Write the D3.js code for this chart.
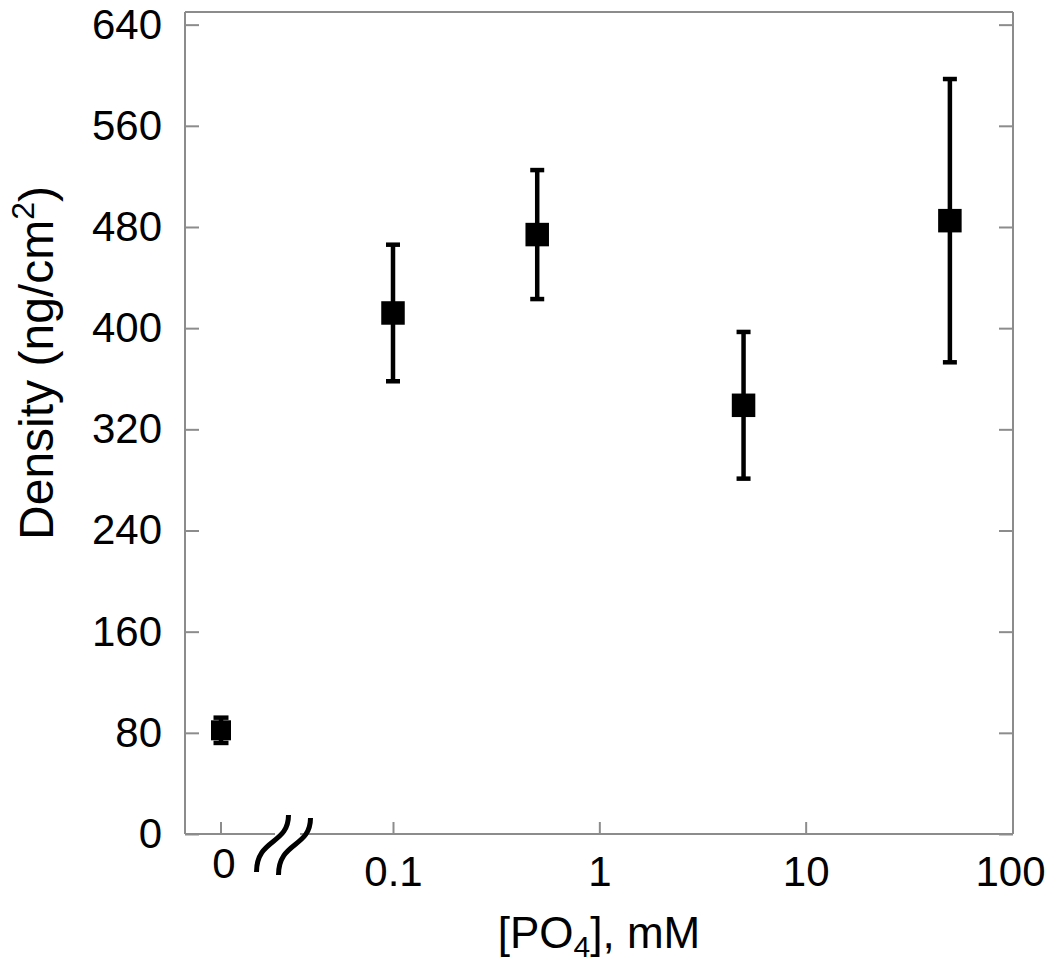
<!DOCTYPE html>
<html>
<head>
<meta charset="utf-8">
<script src="https://cdn.jsdelivr.net/npm/d3@7"></script>
<style>
  html, body { margin: 0; padding: 0; background: #fff; }
  text { font-family: "Liberation Sans", Arial, sans-serif; fill: #000; }
</style>
</head>
<body>
<svg id="chart" width="1050" height="967"></svg>
<script>
// ---- data ----
const concentrations = [0, 0.1, 0.5, 5, 50];           // mM (0 drawn left of the axis break)
const density        = [82, 412, 474, 339, 485];       // ng/cm2
const densityError   = [10, 54, 51, 58, 112];          // +/- ng/cm2
const yTicks         = [0, 80, 160, 240, 320, 400, 480, 560, 640];
const xTicks         = [0.1, 1, 10, 100];
const xTickLabels    = ["0.1", "1", "10", "100"];
const zeroLabel      = "0";

// ---- layout ----
const svg = d3.select("#chart");
const frame = { left: 185, right: 1013, top: 12, bottom: 834 };

const y = d3.scaleLinear().domain([0, 650]).range([frame.bottom, frame.top]);
const xLog = d3.scaleLog().domain([0.1, 100]).range([393, 1012]);
const xZero = 221;
const xPos = v => v === 0 ? xZero : xLog(v);

const gray = "#8c8c8c";
const breakX = 275, breakX2 = 300;

// frame: left, top, right, bottom (with break gap)
svg.append("line").attr("x1", frame.left).attr("x2", frame.left).attr("y1", frame.top).attr("y2", frame.bottom)
  .attr("stroke", gray).attr("stroke-width", 2);
svg.append("line").attr("x1", frame.left).attr("x2", frame.right).attr("y1", frame.top).attr("y2", frame.top)
  .attr("stroke", gray).attr("stroke-width", 2);
svg.append("line").attr("x1", frame.right).attr("x2", frame.right).attr("y1", frame.top).attr("y2", frame.bottom)
  .attr("stroke", gray).attr("stroke-width", 2);
svg.append("line").attr("x1", frame.left).attr("x2", breakX).attr("y1", frame.bottom).attr("y2", frame.bottom)
  .attr("stroke", gray).attr("stroke-width", 2);
svg.append("line").attr("x1", breakX2).attr("x2", frame.right).attr("y1", frame.bottom).attr("y2", frame.bottom)
  .attr("stroke", gray).attr("stroke-width", 2);

// y axis (left) with inward ticks
const yAxisL = d3.axisLeft(y).tickValues(yTicks).tickSize(-14).tickPadding(23).tickFormat(d3.format("d"));
const gyl = svg.append("g").attr("transform", `translate(${frame.left},0)`).call(yAxisL);
gyl.select(".domain").remove();
gyl.selectAll(".tick line").attr("stroke", gray).attr("stroke-width", 2);
gyl.selectAll(".tick text").attr("font-size", 42).attr("font-family", "Liberation Sans, Arial, sans-serif").attr("fill", "#000");

// y axis (right) ticks only
const yAxisR = d3.axisRight(y).tickValues(yTicks).tickSize(-14).tickFormat("");
const gyr = svg.append("g").attr("transform", `translate(${frame.right},0)`).call(yAxisR);
gyr.select(".domain").remove();
gyr.selectAll(".tick line").attr("stroke", gray).attr("stroke-width", 2);

// x axis (log part)
const xAxis = d3.axisBottom(xLog).tickValues(xTicks).tickSize(-12).tickPadding(22)
  .tickFormat((d, i) => xTickLabels[i]);
const gx = svg.append("g").attr("transform", `translate(0,${frame.bottom})`).call(xAxis);
gx.select(".domain").remove();
gx.selectAll(".tick line").attr("stroke", gray).attr("stroke-width", 2)
  .filter(d => d === 100).remove();
gx.selectAll(".tick text").attr("font-size", 42).attr("font-family", "Liberation Sans, Arial, sans-serif").attr("fill", "#000");
gx.selectAll(".tick text").filter(d => d === 100).attr("dx", -2);

// zero tick
svg.append("line").attr("x1", xZero).attr("x2", xZero).attr("y1", frame.bottom).attr("y2", frame.bottom - 12)
  .attr("stroke", gray).attr("stroke-width", 2);
svg.append("text").attr("x", xZero + 3).attr("y", frame.bottom + 44).attr("text-anchor", "middle")
  .attr("font-size", 42).text(zeroLabel);

// axis break marks
const bx = (breakX + breakX2) / 2 - 14;
[0, 1].forEach(k => {
  const ox = bx + k * 22, oy = frame.bottom + k * 3;
  const p = d3.path();
  p.moveTo(ox + 15, oy - 19);
  p.bezierCurveTo(ox + 15, oy + 11, ox - 17, oy + 4, ox - 17, oy + 38);
  svg.append("path").attr("d", p.toString()).attr("fill", "none").attr("stroke", "#000")
    .attr("stroke-width", 5);
});

// error bars
const capW = 14;
const g = svg.append("g");
concentrations.forEach((c, i) => {
  const cx = xPos(c);
  const y1 = y(density[i] + densityError[i]), y2 = y(density[i] - densityError[i]);
  const cw = i === 0 ? 15 : capW;
  g.append("line").attr("x1", cx).attr("x2", cx).attr("y1", y1).attr("y2", y2)
    .attr("stroke", "#000").attr("stroke-width", 4.5);
  [y1, y2].forEach(yy => {
    g.append("line").attr("x1", cx - cw / 2).attr("x2", cx + cw / 2).attr("y1", yy).attr("y2", yy)
      .attr("stroke", "#000").attr("stroke-width", 4.5);
  });
});

// markers
concentrations.forEach((c, i) => {
  const s = i === 0 ? 20 : 23.5;
  g.append("rect").attr("x", xPos(c) - s / 2).attr("y", y(density[i]) - s / 2)
    .attr("width", s).attr("height", s).attr("fill", "#000");
});

// axis titles
const xt = svg.append("text").attr("x", (frame.left + frame.right) / 2).attr("y", 948)
  .attr("text-anchor", "middle").attr("font-size", 44);
xt.append("tspan").text("[PO");
xt.append("tspan").attr("font-size", 30).attr("dy", 9).text("4");
xt.append("tspan").attr("dy", -9).text("], mM");

const yt = svg.append("text").attr("transform", "translate(53,363) rotate(-90)")
  .attr("text-anchor", "middle").attr("font-size", 48);
yt.append("tspan").text("Density (ng/cm");
yt.append("tspan").attr("font-size", 32).attr("dy", -19).text("2");
yt.append("tspan").attr("dy", 19).text(")");
</script>
</body>
</html>
